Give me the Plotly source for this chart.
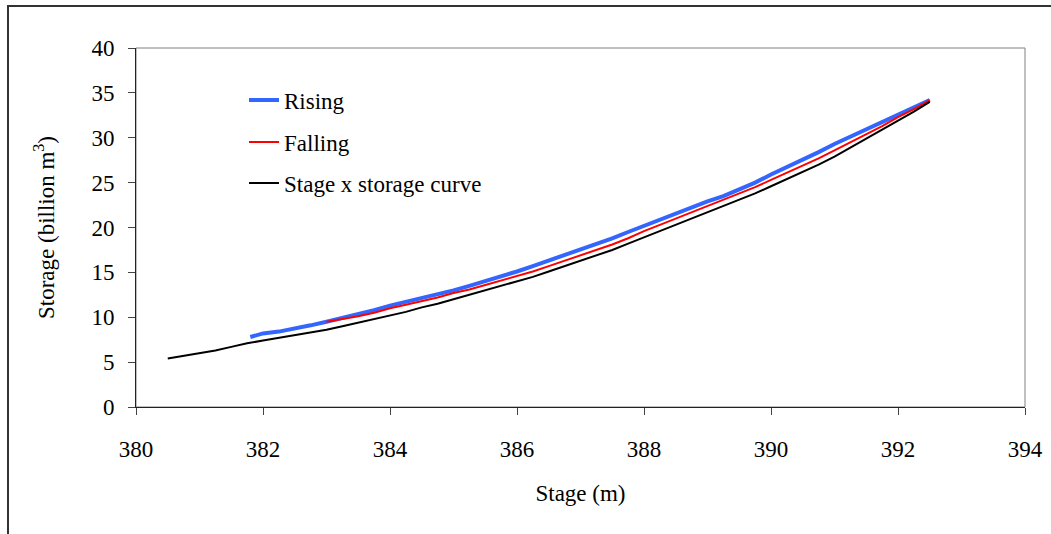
import plotly.graph_objects as go

# Stage (m) vs storage (billion m3)
curve_stage = [380.50, 380.75, 381.00, 381.25, 381.50, 381.75, 382.00, 382.25, 382.50, 382.75,
               383.00, 383.25, 383.50, 383.75, 384.00, 384.25, 384.50, 384.75, 385.00, 385.25,
               385.50, 385.75, 386.00, 386.25, 386.50, 386.75, 387.00, 387.25, 387.50, 387.75,
               388.00, 388.25, 388.50, 388.75, 389.00, 389.25, 389.50, 389.75, 390.00, 390.25,
               390.50, 390.75, 391.00, 391.25, 391.50, 391.75, 392.00, 392.25, 392.50]
curve_storage = [5.4, 5.7, 6.0, 6.3, 6.7, 7.1, 7.4, 7.7, 8.0, 8.3,
                 8.6, 9.0, 9.4, 9.8, 10.2, 10.6, 11.1, 11.5, 12.0, 12.5,
                 13.0, 13.5, 14.0, 14.5, 15.1, 15.7, 16.3, 16.9, 17.5, 18.2,
                 18.9, 19.6, 20.3, 21.0, 21.7, 22.4, 23.1, 23.8, 24.6, 25.4,
                 26.2, 27.0, 27.9, 28.9, 29.9, 30.9, 31.9, 32.9, 34.0]

rising_stage = [381.80, 382.00, 382.25, 382.50, 382.75, 383.00, 383.25, 383.50, 383.75, 384.00,
                384.25, 384.50, 384.75, 385.00, 385.25, 385.50, 385.75, 386.00, 386.25, 386.50,
                386.75, 387.00, 387.25, 387.50, 387.75, 388.00, 388.25, 388.50, 388.75, 389.00,
                389.25, 389.50, 389.75, 390.00, 390.25, 390.50, 390.75, 391.00, 391.25, 391.50,
                391.75, 392.00, 392.25, 392.50]
rising_storage = [7.8, 8.2, 8.4, 8.7, 9.1, 9.5, 9.9, 10.3, 10.8, 11.3,
                  11.7, 12.2, 12.6, 13.0, 13.5, 14.0, 14.5, 15.1, 15.7, 16.3,
                  16.9, 17.5, 18.1, 18.8, 19.5, 20.2, 20.9, 21.6, 22.2, 22.9,
                  23.5, 24.2, 25.0, 25.9, 26.7, 27.6, 28.4, 29.3, 30.1, 31.0,
                  31.8, 32.6, 33.4, 34.2]

falling_stage = [383.00, 383.25, 383.50, 383.75, 384.00, 384.25, 384.50, 384.75, 385.00, 385.25,
                 385.50, 385.75, 386.00, 386.25, 386.50, 386.75, 387.00, 387.25, 387.50, 387.75,
                 388.00, 388.25, 388.50, 388.75, 389.00, 389.25, 389.50, 389.75, 390.00, 390.25,
                 390.50, 390.75, 391.00, 391.25, 391.50, 391.75, 392.00, 392.25, 392.50]
falling_storage = [9.5, 9.8, 10.1, 10.5, 11.0, 11.4, 11.8, 12.2, 12.7, 13.1,
                   13.6, 14.1, 14.6, 15.1, 15.7, 16.3, 16.9, 17.5, 18.1, 18.8,
                   19.6, 20.3, 21.0, 21.7, 22.4, 23.1, 23.8, 24.5, 25.3, 26.1,
                   26.9, 27.7, 28.6, 29.5, 30.4, 31.3, 32.3, 33.2, 34.2]

x_ticks = [380, 382, 384, 386, 388, 390, 392, 394]
y_ticks = [0, 5, 10, 15, 20, 25, 30, 35, 40]

FONT = "Liberation Serif, Times New Roman, serif"
FS = 23

fig = go.Figure()
fig.add_trace(go.Scatter(x=rising_stage, y=rising_storage, mode="lines", name="Rising",
                         line=dict(color="#3366FF", width=4), legend="legend"))
fig.add_trace(go.Scatter(x=falling_stage, y=falling_storage, mode="lines", name="Falling",
                         line=dict(color="#FF0000", width=2), legend="legend2"))
fig.add_trace(go.Scatter(x=curve_stage, y=curve_storage, mode="lines", name="Stage x storage curve",
                         line=dict(color="#000000", width=2), legend="legend3"))

LX = (244 - 136) / 889
leg_common = dict(font=dict(family=FONT, size=FS, color="black"), bgcolor="rgba(0,0,0,0)",
                  xanchor="left", yanchor="middle", borderwidth=0)
fig.update_layout(
    width=1051, height=534,
    margin=dict(l=136, r=26, t=48, b=127, autoexpand=False),
    paper_bgcolor="white", plot_bgcolor="white",
    font=dict(family=FONT, size=FS, color="black"),
    showlegend=True,
    legend=dict(x=LX, y=(407 - 100) / 359, **leg_common),
    legend2=dict(x=LX, y=(407 - 142) / 359, **leg_common),
    legend3=dict(x=LX, y=(407 - 183) / 359, **leg_common),
    xaxis=dict(range=[380, 394], tickvals=x_ticks, ticktext=[str(v) for v in x_ticks],
               showgrid=False, zeroline=False, showline=True, linecolor="#222", linewidth=1,
               ticks="outside", ticklen=7, tickcolor="#444", tickfont=dict(size=FS),
               ticklabelstandoff=14, automargin=False,
               title=dict(text="Stage (m)", font=dict(size=FS), standoff=24)),
    yaxis=dict(range=[0, 40], tickvals=y_ticks, ticktext=[str(v) for v in y_ticks],
               showgrid=False, zeroline=False, showline=True, linecolor="#222", linewidth=1,
               ticks="outside", ticklen=7, tickcolor="#444", tickfont=dict(size=FS),
               ticklabelstandoff=9, automargin=False,
               title=dict(text="Storage (billion m<sup>3</sup>)", font=dict(size=FS), standoff=30)),
    shapes=[
        dict(type="rect", xref="paper", yref="paper", x0=0, x1=1, y0=0, y1=1,
             line=dict(color="#808080", width=1), layer="below"),
        dict(type="rect", xref="paper", yref="paper",
             x0=(8 - 136) / 889, x1=(1070 - 136) / 889,
             y0=(407 - 560) / 359, y1=(407 - 6) / 359,
             line=dict(color="#333333", width=2), layer="below"),
    ],
)

fig.write_html("out.html")
